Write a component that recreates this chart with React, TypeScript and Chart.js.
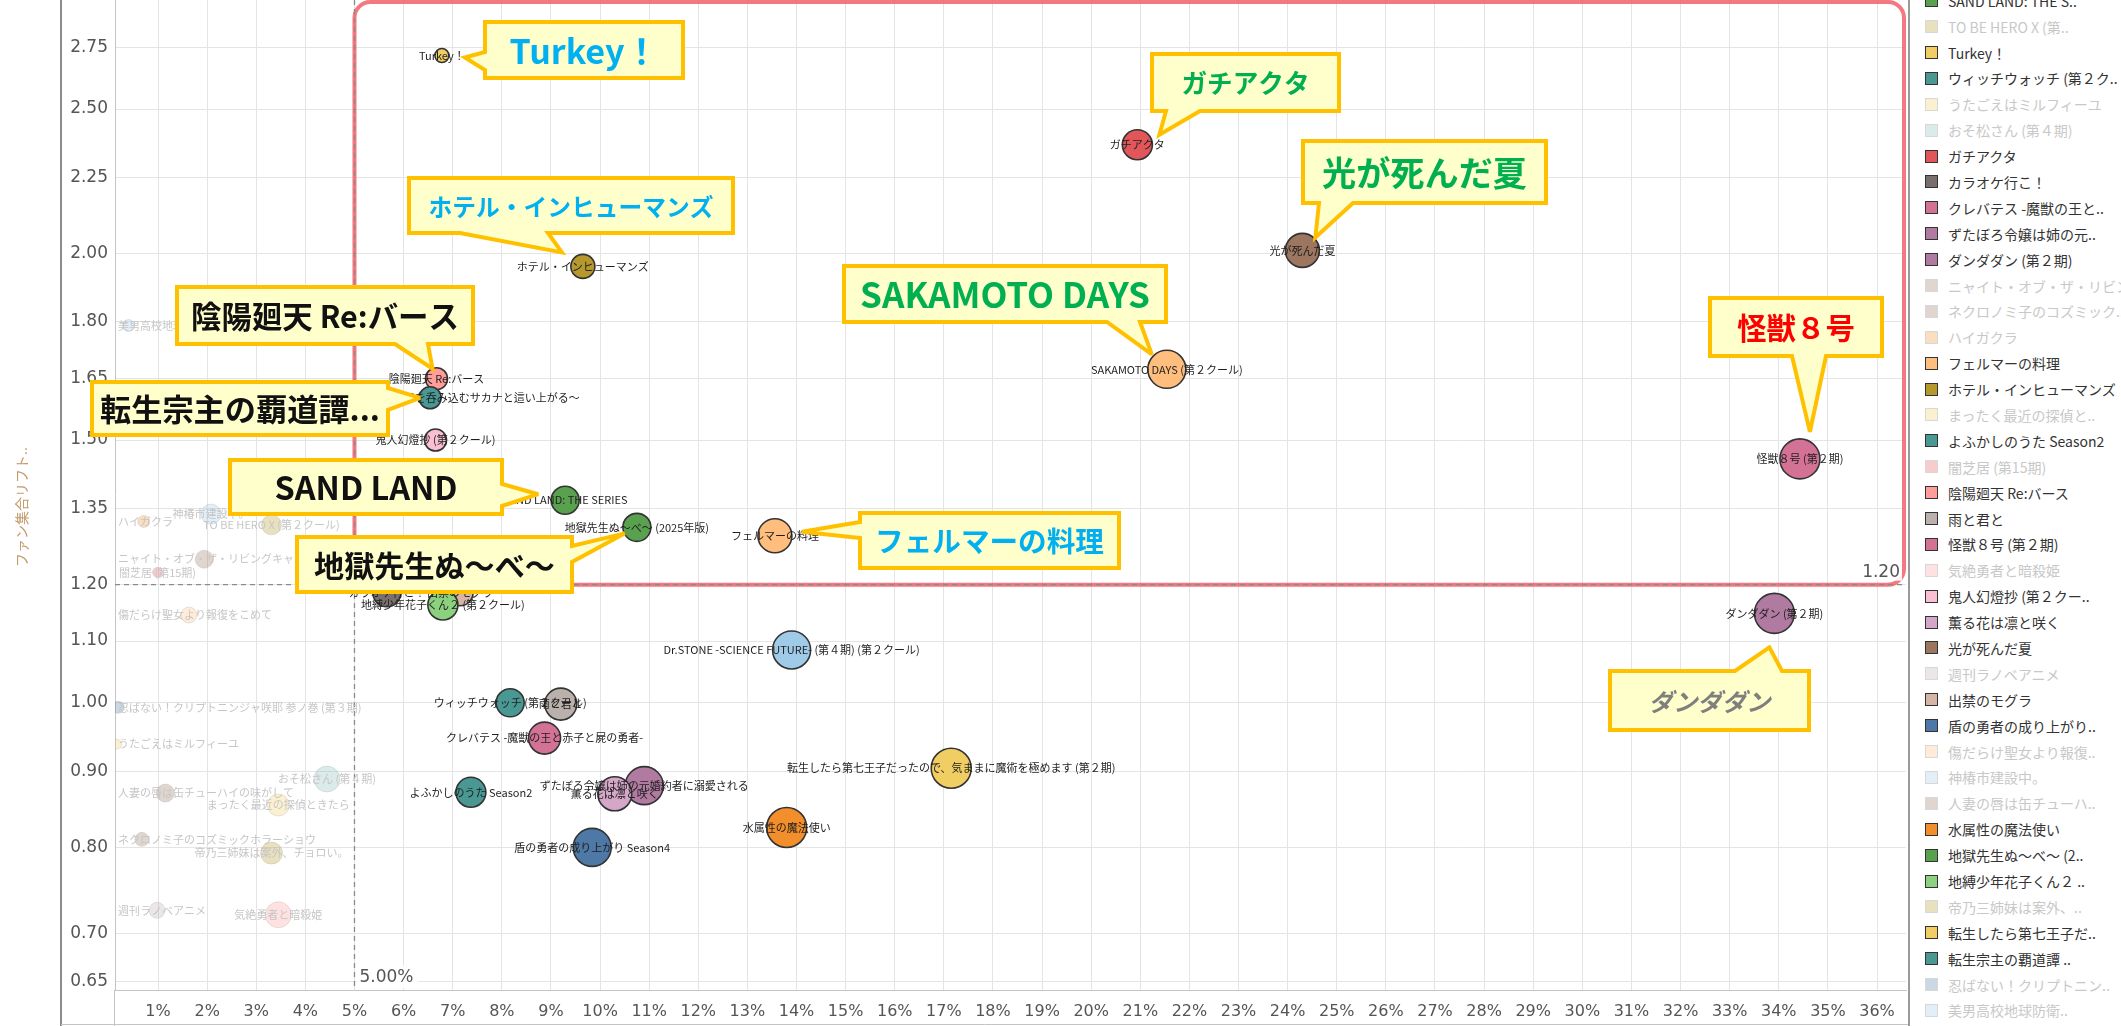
import React, { useEffect, useRef } from 'react';
import { Chart, registerables } from 'chart.js';

Chart.register(...registerables);

// ---------------- DATA ----------------
const titles = [
  'Dr.STONE -SCIENCE FUTURE- (第４期) (第２クール)',
  'SAKAMOTO DAYS (第２クール)',
  'SAND LAND: THE SERIES',
  'TO BE HERO X (第２クール)',
  'Turkey！',
  'ウィッチウォッチ (第２クール)',
  'うたごえはミルフィーユ',
  'おそ松さん (第４期)',
  'ガチアクタ',
  'カラオケ行こ！',
  'クレバテス -魔獣の王と赤子と屍の勇者-',
  'ずたぼろ令嬢は姉の元婚約者に溺愛される',
  'ダンダダン (第２期)',
  'ニャイト・オブ・ザ・リビングキャット',
  'ネクロノミ子のコズミックホラーショウ',
  'ハイガクラ',
  'フェルマーの料理',
  'ホテル・インヒューマンズ',
  'まったく最近の探偵ときたら',
  'よふかしのうた Season2',
  '闇芝居 (第15期)',
  '陰陽廻天 Re:バース',
  '雨と君と',
  '怪獣８号 (第２期)',
  '気絶勇者と暗殺姫',
  '鬼人幻燈抄 (第２クール)',
  '薫る花は凛と咲く',
  '光が死んだ夏',
  '週刊ラノベアニメ',
  '出禁のモグラ',
  '盾の勇者の成り上がり Season4',
  '傷だらけ聖女より報復をこめて',
  '神椿市建設中。',
  '人妻の唇は缶チューハイの味がして',
  '水属性の魔法使い',
  '地獄先生ぬ～べ～ (2025年版)',
  '地縛少年花子くん２ (第２クール)',
  '帝乃三姉妹は案外、チョロい。',
  '転生したら第七王子だったので、気ままに魔術を極めます (第２期)',
  '転生宗主の覇道譚 ～すべてを呑み込むサカナと這い上がる～',
  '忍ばない！クリプトニンジャ咲耶 参ノ巻 (第３期)',
  '美男高校地球防衛部ハイカラ！',
];

const legendNames = [
  'Dr.STONE -SCIENCE F..',
  'SAKAMOTO DAYS (第..',
  'SAND LAND: THE S..',
  'TO BE HERO X (第..',
  'Turkey！',
  'ウィッチウォッチ (第２ク..',
  'うたごえはミルフィーユ',
  'おそ松さん (第４期)',
  'ガチアクタ',
  'カラオケ行こ！',
  'クレバテス -魔獣の王と..',
  'ずたぼろ令嬢は姉の元..',
  'ダンダダン (第２期)',
  'ニャイト・オブ・ザ・リビン..',
  'ネクロノミ子のコズミック..',
  'ハイガクラ',
  'フェルマーの料理',
  'ホテル・インヒューマンズ',
  'まったく最近の探偵と..',
  'よふかしのうた Season2',
  '闇芝居 (第15期)',
  '陰陽廻天 Re:バース',
  '雨と君と',
  '怪獣８号 (第２期)',
  '気絶勇者と暗殺姫',
  '鬼人幻燈抄 (第２クー..',
  '薫る花は凛と咲く',
  '光が死んだ夏',
  '週刊ラノベアニメ',
  '出禁のモグラ',
  '盾の勇者の成り上がり..',
  '傷だらけ聖女より報復..',
  '神椿市建設中。',
  '人妻の唇は缶チューハ..',
  '水属性の魔法使い',
  '地獄先生ぬ～べ～ (2..',
  '地縛少年花子くん２ ..',
  '帝乃三姉妹は案外、..',
  '転生したら第七王子だ..',
  '転生宗主の覇道譚 ..',
  '忍ばない！クリプトニン..',
  '美男高校地球防衛..',
];

// x: share (%)
const fanShare = [
  13.9, 21.54, 9.29, 3.31, 6.78, 8.17, 0.16, 4.44, 20.94, 5.66,
  8.87, 10.9, 33.91, 1.94, 0.67, 0.71, 13.56, 9.65, 3.45, 7.37,
  0.99, 6.67, 9.2, 34.43, 3.45, 6.65, 10.3, 24.3, 0.98, 7.15,
  9.84, 1.63, 2.08, 1.15, 13.8, 10.75, 6.8, 3.31, 17.15, 6.54,
  0.19, 0.4,
];

// y: ファン集合リフト
const lift = [
  1.085, 1.673, 1.367, 1.316, 2.715, 1.0, 0.938, 0.889, 2.366, 1.185,
  0.947, 0.88, 1.148, 1.248, 0.81, 1.323, 1.294, 1.961, 0.854, 0.871,
  1.223, 1.649, 0.998, 1.457, 0.721, 1.5, 0.869, 2.01, 0.726, 1.185,
  0.8, 1.145, 1.338, 0.87, 0.825, 1.311, 1.163, 0.793, 0.904, 1.601,
  0.993, 1.79,
];

// bubble size
const bubbleSize = [
  19, 19, 14, 10, 7, 14, 5, 13, 15, 14,
  16, 19, 20, 9, 7, 6, 17, 12, 11, 15,
  5, 11, 16, 20, 13, 11, 17, 17, 8, 13,
  19, 8, 10, 9, 20, 14, 15, 11, 20, 11,
  6, 6,
];

const colors = [
  '#a0cbe8', '#ffbe7d', '#59a14f', '#b6992d', '#f1ce63', '#499894', '#f1ce63', '#86bcb6', '#e15759', '#79706e',
  '#d37295', '#b07aa1', '#b07aa1', '#9d7660', '#9d7660', '#f28e2b', '#ffbe7d', '#b6992d', '#f1ce63', '#499894',
  '#e15759', '#ff9d9a', '#bab0ac', '#d37295', '#ff9d9a', '#fabfd2', '#d4a6c8', '#9d7660', '#bab0ac', '#d7b5a6',
  '#4e79a7', '#ffbe7d', '#a0cbe8', '#9d7660', '#f28e2b', '#59a14f', '#8cd17d', '#b6992d', '#f1ce63', '#499894',
  '#4e79a7', '#a0cbe8',
];

const highlighted = [
  true, true, true, false, true, true, false, false, true, true,
  true, true, true, false, false, false, true, true, false, true,
  false, true, true, true, false, true, true, true, false, true,
  true, false, false, false, true, true, true, false, true, true,
  false, false,
];

const xTicks = [1, 2, 3, 4, 5, 6, 7, 8, 9, 10, 11, 12, 13, 14, 15, 16, 17, 18, 19, 20, 21, 22, 23, 24, 25, 26, 27, 28, 29, 30, 31, 32, 33, 34, 35, 36];
const yTicks = [0.65, 0.7, 0.8, 0.9, 1.0, 1.1, 1.2, 1.35, 1.5, 1.65, 1.8, 2.0, 2.25, 2.5, 2.75];

const X_MIN = 0.124;
const X_MAX = 36.59;
const Y_MIN = 0.642;
const Y_MAX = 2.958;

const xThreshold = 5;
const yThreshold = 1.2;

// ---------------- CALLOUTS (layout) ----------------
type Callout = {
  text: string; color: string; target: string; box: number[]; side: string;
  base: number[]; tip: number[]; tw: number; italic?: boolean;
};
const CALLOUTS: Callout[] = [
  { text: 'Turkey！', color: '#00b0f0', target: 'Turkey！', box: [485, 22, 198, 56], side: 'left', base: [52, 70], tip: [23, 2], tw: 149 },
  { text: 'ガチアクタ', color: '#00b050', target: 'ガチアクタ', box: [1152, 54, 187, 57], side: 'bottom', base: [1166, 1200], tip: [22, -10], tw: 128 },
  { text: '光が死んだ夏', color: '#00b050', target: '光が死んだ夏', box: [1303, 141, 243, 62], side: 'bottom', base: [1319, 1353], tip: [13, -13], tw: 205 },
  { text: 'ホテル・インヒューマンズ', color: '#00b0f0', target: 'ホテル・インヒューマンズ', box: [409, 178, 324, 55], side: 'bottom', base: [460, 548], tip: [-21, -14], tw: 285 },
  { text: 'SAKAMOTO DAYS', color: '#00b050', target: 'SAKAMOTO DAYS (第２クール)', box: [844, 266, 322, 56], side: 'bottom', base: [1107, 1140], tip: [-15, -15], tw: 290 },
  { text: '陰陽廻天 Re:バース', color: '#111111', target: '陰陽廻天 Re:バース', box: [177, 287, 296, 57], side: 'bottom', base: [395, 428], tip: [-4, -10], tw: 268 },
  { text: '転生宗主の覇道譚...', color: '#111111', target: '転生宗主の覇道譚 ～すべてを呑み込むサカナと這い上がる～', box: [92, 382, 296, 53], side: 'right', base: [388, 410], tip: [-10, 0], tw: 280 },
  { text: 'SAND LAND', color: '#111111', target: 'SAND LAND: THE SERIES', box: [230, 460, 272, 54], side: 'right', base: [484, 506], tip: [-27, -6], tw: 183 },
  { text: '地獄先生ぬ～べ～', color: '#111111', target: '地獄先生ぬ～べ～ (2025年版)', box: [297, 537, 275, 55], side: 'right', base: [546, 562], tip: [-12, 6], tw: 241 },
  { text: 'フェルマーの料理', color: '#00b0f0', target: 'フェルマーの料理', box: [860, 513, 259, 55], side: 'left', base: [522, 538], tip: [27, -4], tw: 229 },
  { text: '怪獣８号', color: '#ff0000', target: '怪獣８号 (第２期)', box: [1710, 298, 172, 58], side: 'bottom', base: [1792, 1826], tip: [10, -27], tw: 118 },
  { text: 'ダンダダン', color: '#7f7f7f', target: 'ダンダダン (第２期)', box: [1610, 671, 199, 59], side: 'top', base: [1735, 1782], tip: [-5, 34], tw: 122, italic: true },
];

const CJK = '"Noto Sans CJK JP", "Noto Sans", sans-serif';
const TICKFONT = '"DejaVu Sans", sans-serif';

const hexToRgba = (hex: string, a: number) => {
  const n = parseInt(hex.slice(1), 16);
  return `rgba(${(n >> 16) & 255},${(n >> 8) & 255},${n & 255},${a})`;
};

function roundRectPath(ctx: CanvasRenderingContext2D, x: number, y: number, w: number, h: number, r: number) {
  ctx.beginPath();
  ctx.moveTo(x + r, y);
  ctx.lineTo(x + w - r, y);
  ctx.arcTo(x + w, y, x + w, y + r, r);
  ctx.lineTo(x + w, y + h - r);
  ctx.arcTo(x + w, y + h, x + w - r, y + h, r);
  ctx.lineTo(x + r, y + h);
  ctx.arcTo(x, y + h, x, y + h - r, r);
  ctx.lineTo(x, y + r);
  ctx.arcTo(x, y, x + r, y, r);
  ctx.closePath();
}

const zeroPad = (s: any) => {
  s.paddingTop = 0;
  s.paddingBottom = 0;
  s.paddingLeft = 0;
  s.paddingRight = 0;
};

const decorPlugin = {
  id: 'decor',
  beforeDatasetsDraw(chart: any) {
    const { ctx, chartArea: a, scales } = chart;
    const xs = scales.x, ys = scales.y;
    const x5 = xs.getPixelForValue(xThreshold);
    const y12 = ys.getPixelForValue(yThreshold);
    ctx.save();
    ctx.strokeStyle = 'rgba(242,96,106,0.85)';
    ctx.lineWidth = 4;
    roundRectPath(ctx, x5, a.top + 2, a.right - 2 - x5, y12 - a.top - 2, 16);
    ctx.stroke();
    ctx.setLineDash([5, 4]);
    ctx.strokeStyle = '#8a8a8a';
    ctx.lineWidth = 1.3;
    ctx.beginPath();
    ctx.moveTo(x5, a.top);
    ctx.lineTo(x5, a.bottom);
    ctx.moveTo(a.left, y12);
    ctx.lineTo(a.right, y12);
    ctx.stroke();
    ctx.restore();
  },
  afterDatasetsDraw(chart: any) {
    const { ctx, chartArea: a, scales } = chart;
    const xs = scales.x, ys = scales.y;
    ctx.save();
    // data labels
    ctx.font = `11px ${CJK}`;
    ctx.textBaseline = 'middle';
    ctx.textAlign = 'left';
    titles.forEach((t, i) => {
      const px = xs.getPixelForValue(fanShare[i]);
      const py = ys.getPixelForValue(lift[i]);
      const w = ctx.measureText(t).width;
      let left = px - w / 2;
      if (left < a.left + 3) left = a.left + 3;
      if (left + w > a.right - 3) left = a.right - 3 - w;
      ctx.fillStyle = highlighted[i] ? '#1e1e1e' : '#c6c6c6';
      ctx.fillText(t, left, py);
    });
    // reference labels
    const x5 = xs.getPixelForValue(xThreshold);
    const y12 = ys.getPixelForValue(yThreshold);
    ctx.font = `17px ${TICKFONT}`;
    const t1 = '5.00%';
    const w1 = ctx.measureText(t1).width;
    ctx.fillStyle = 'rgba(255,255,255,0.92)';
    ctx.fillRect(x5 + 2, a.bottom - 24, w1 + 8, 22);
    ctx.fillStyle = '#555';
    ctx.fillText(t1, x5 + 5, a.bottom - 12);
    const t2 = '1.20';
    const w2 = ctx.measureText(t2).width;
    ctx.fillStyle = 'rgba(255,255,255,0.92)';
    ctx.fillRect(a.right - 8 - w2, y12 - 23, w2 + 4, 19);
    ctx.fillStyle = '#555';
    ctx.fillText(t2, a.right - 6 - w2, y12 - 12);

    // callouts
    CALLOUTS.forEach((c) => {
      const i = titles.indexOf(c.target);
      const px = xs.getPixelForValue(fanShare[i]);
      const py = ys.getPixelForValue(lift[i]);
      const tx = px + c.tip[0], ty = py + c.tip[1];
      const [bx, by, bw, bh] = c.box;
      ctx.beginPath();
      ctx.moveTo(bx, by);
      if (c.side === 'top') { ctx.lineTo(c.base[0], by); ctx.lineTo(tx, ty); ctx.lineTo(c.base[1], by); }
      ctx.lineTo(bx + bw, by);
      if (c.side === 'right') { ctx.lineTo(bx + bw, c.base[0]); ctx.lineTo(tx, ty); ctx.lineTo(bx + bw, c.base[1]); }
      ctx.lineTo(bx + bw, by + bh);
      if (c.side === 'bottom') { ctx.lineTo(c.base[1], by + bh); ctx.lineTo(tx, ty); ctx.lineTo(c.base[0], by + bh); }
      ctx.lineTo(bx, by + bh);
      if (c.side === 'left') { ctx.lineTo(bx, c.base[1]); ctx.lineTo(tx, ty); ctx.lineTo(bx, c.base[0]); }
      ctx.closePath();
      ctx.fillStyle = '#ffffcc';
      ctx.fill();
      ctx.lineWidth = 4;
      ctx.lineJoin = 'miter';
      ctx.miterLimit = 3;
      ctx.strokeStyle = '#ffc000';
      ctx.stroke();
      const style = c.italic ? 'italic bold' : 'bold';
      ctx.font = `${style} 100px ${CJK}`;
      const m = ctx.measureText(c.text).width;
      const fs = Math.max(20, Math.min(36, (100 * c.tw) / m));
      ctx.font = `${style} ${fs}px ${CJK}`;
      ctx.fillStyle = c.color;
      ctx.textAlign = 'center';
      ctx.textBaseline = 'middle';
      ctx.fillText(c.text, bx + bw / 2, by + bh / 2 + 1);
    });
    ctx.restore();
  },
  afterDraw(chart: any) {
    const { ctx, chartArea: a } = chart;
    ctx.save();
    ctx.strokeStyle = '#8c8c8c';
    ctx.lineWidth = 2;
    ctx.beginPath();
    ctx.moveTo(61, 0);
    ctx.lineTo(61, chart.height);
    ctx.stroke();
    ctx.strokeStyle = '#c4c4c4';
    ctx.lineWidth = 1;
    ctx.beginPath();
    ctx.moveTo(Math.round(a.left) - 0.5, a.bottom);
    ctx.lineTo(Math.round(a.left) - 0.5, chart.height);
    ctx.moveTo(61, chart.height - 1.5);
    ctx.lineTo(chart.width, chart.height - 1.5);
    ctx.stroke();
    ctx.translate(22, 507);
    ctx.rotate(-Math.PI / 2);
    ctx.font = `14px ${CJK}`;
    ctx.fillStyle = '#c49a6c';
    ctx.textAlign = 'center';
    ctx.textBaseline = 'middle';
    ctx.fillText('ファン集合リフト..', 0, 0);
    ctx.restore();
  },
};

export default function App() {
  const ref = useRef<HTMLCanvasElement | null>(null);
  useEffect(() => {
    if (!ref.current) return;
    const chart = new Chart(ref.current, {
      type: 'bubble',
      data: {
        datasets: [
          {
            data: titles.map((_, i) => ({ x: fanShare[i], y: lift[i], r: bubbleSize[i] })),
            backgroundColor: colors.map((c, i) => (highlighted[i] ? c : hexToRgba(c, 0.3))),
            borderColor: highlighted.map((h) => (h ? '#333333' : 'rgba(130,130,130,0.18)')),
            borderWidth: highlighted.map((h) => (h ? 1.6 : 1)),
          },
        ],
      },
      options: {
        responsive: false,
        animation: false,
        devicePixelRatio: 1,
        events: [],
        layout: { autoPadding: false, padding: { left: 0, right: 2, top: 0, bottom: 0 } },
        plugins: { legend: { display: false }, tooltip: { enabled: false } },
        scales: {
          x: {
            type: 'linear',
            min: X_MIN,
            max: X_MAX,
            bounds: 'data',
            afterBuildTicks: (s: any) => { s.ticks = xTicks.map((v) => ({ value: v })); s.min = X_MIN; s.max = X_MAX; },
            afterFit: (s: any) => { s.height = 36; zeroPad(s); },
            grid: { color: '#e4e4e4', drawTicks: false },
            border: { color: '#c4c4c4' },
            ticks: {
              autoSkip: false,
              maxRotation: 0,
              padding: 12,
              color: '#555',
              font: { family: TICKFONT, size: 16 },
              callback: (v: any) => `${v}%`,
            },
          },
          y: {
            type: 'logarithmic',
            min: Y_MIN,
            max: Y_MAX,
            bounds: 'data',
            afterBuildTicks: (s: any) => { s.ticks = yTicks.map((v) => ({ value: v })); s.min = Y_MIN; s.max = Y_MAX; },
            afterFit: (s: any) => { s.width = 115; zeroPad(s); },
            grid: { color: '#e4e4e4', drawTicks: false },
            border: { color: '#c4c4c4' },
            ticks: {
              padding: 7,
              color: '#555',
              font: { family: TICKFONT, size: 17 },
              callback: (v: any) => Number(v).toFixed(2),
            },
          },
        },
      } as any,
      plugins: [decorPlugin as any],
    });
    return () => chart.destroy();
  }, []);

  return (
    <div style={{ position: 'absolute', left: 0, top: 0, width: 2121, height: 1026, overflow: 'hidden', background: '#fff' }}>
      <canvas ref={ref} width={1908} height={1026} style={{ position: 'absolute', left: 0, top: 0, width: 1908, height: 1026 }} />
      <div
        style={{
          position: 'absolute', left: 1908, top: 0, width: 213, height: 1026,
          borderLeft: '2px solid #9a9a9a', overflow: 'hidden', background: '#fff', boxSizing: 'border-box',
        }}
      >
        <div style={{ position: 'absolute', top: -64, left: 0 }}>
          {titles.map((t, i) => (
            <div
              key={t}
              style={{
                height: 25.9, display: 'flex', alignItems: 'center', whiteSpace: 'nowrap',
                fontFamily: CJK, fontSize: 14, color: highlighted[i] ? '#333' : '#c8c8c8',
              }}
            >
              <span
                style={{
                  display: 'inline-block', width: 13, height: 13, marginLeft: 15, marginRight: 10,
                  boxSizing: 'border-box', flex: '0 0 auto',
                  background: highlighted[i] ? colors[i] : hexToRgba(colors[i], 0.3),
                  border: highlighted[i] ? '1px solid #333' : '1px solid #d8d8d8',
                }}
              />
              {legendNames[i]}
            </div>
          ))}
        </div>
      </div>
    </div>
  );
}
